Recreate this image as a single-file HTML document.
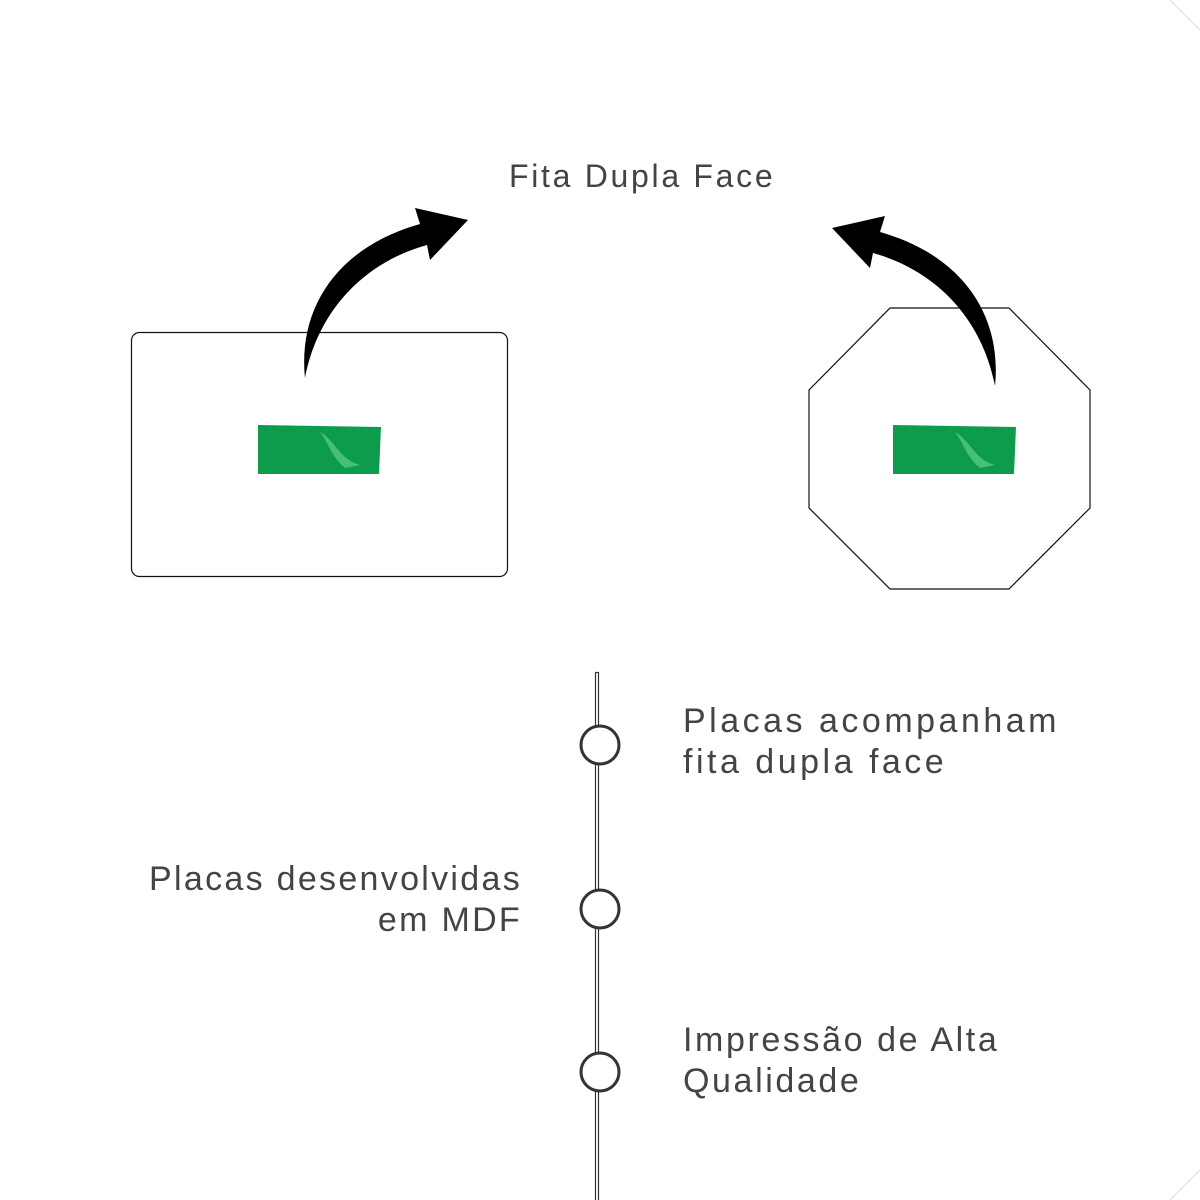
<!DOCTYPE html>
<html><head><meta charset="utf-8"><style>
body{margin:0;width:1200px;height:1200px;background:#fff;position:relative;overflow:hidden;font-family:"Liberation Sans",sans-serif;color:#444}
.t{position:absolute;font-size:34px;line-height:41px;letter-spacing:2.6px;font-weight:300}
</style></head><body>
<svg width="1200" height="1200" style="position:absolute;left:0;top:0">
<rect x="131.5" y="332.5" width="376" height="244" rx="8" fill="none" stroke="#111" stroke-width="1.2"/>
<polygon points="890,308 1009,308 1090,390 1090,508 1009,589 890,589 809,508 809,390" fill="none" stroke="#111" stroke-width="1.2"/>
<path d="M305,378 C298,310 335,248 420,224 L415,208 L468,220 L430,260 L427,245 C365,262 318,310 305,378 Z" fill="#000"/>
<g transform="translate(1300,8) scale(-1,1)">
<path d="M305,378 C298,310 335,248 420,224 L415,208 L468,220 L430,260 L427,245 C365,262 318,310 305,378 Z" fill="#000"/>
</g>
<path d="M258,425 L381,427 L379,474 L258,474 Z" fill="#0c9c4c"/>
<path d="M320,432 C335,440 340,460 360,465 L345,468 C330,455 330,445 320,432Z" fill="#5fcf8c" opacity=".7"/>
<path d="M893,425 L1016,427 L1014,474 L893,474 Z" fill="#0c9c4c"/>
<path d="M955,432 C970,440 975,460 995,465 L980,468 C965,455 965,445 955,432Z" fill="#5fcf8c" opacity=".7"/>
<rect x="595.5" y="672.5" width="3" height="540" fill="none" stroke="#333" stroke-width="1.2"/>
<g fill="#fff" stroke="#333" stroke-width="3">
<circle cx="600" cy="745" r="19"/><circle cx="600" cy="909" r="19"/><circle cx="600" cy="1072" r="19"/>
</g>
<line x1="1170" y1="0" x2="1200" y2="30" stroke="#ddd"/>
<line x1="1170" y1="1200" x2="1200" y2="1170" stroke="#ddd"/>
</svg>
<div class="t" style="left:509px;top:156px;font-size:32px;letter-spacing:2.7px">Fita Dupla Face</div>
<div class="t" style="left:683px;top:701px;letter-spacing:3.5px">Placas acompanham<br>fita dupla face</div>
<div class="t" style="right:678px;top:859px;text-align:right;letter-spacing:2.3px">Placas desenvolvidas<br>em MDF</div>
<div class="t" style="left:683px;top:1020px">Impressão de Alta<br>Qualidade</div>
</body></html>
